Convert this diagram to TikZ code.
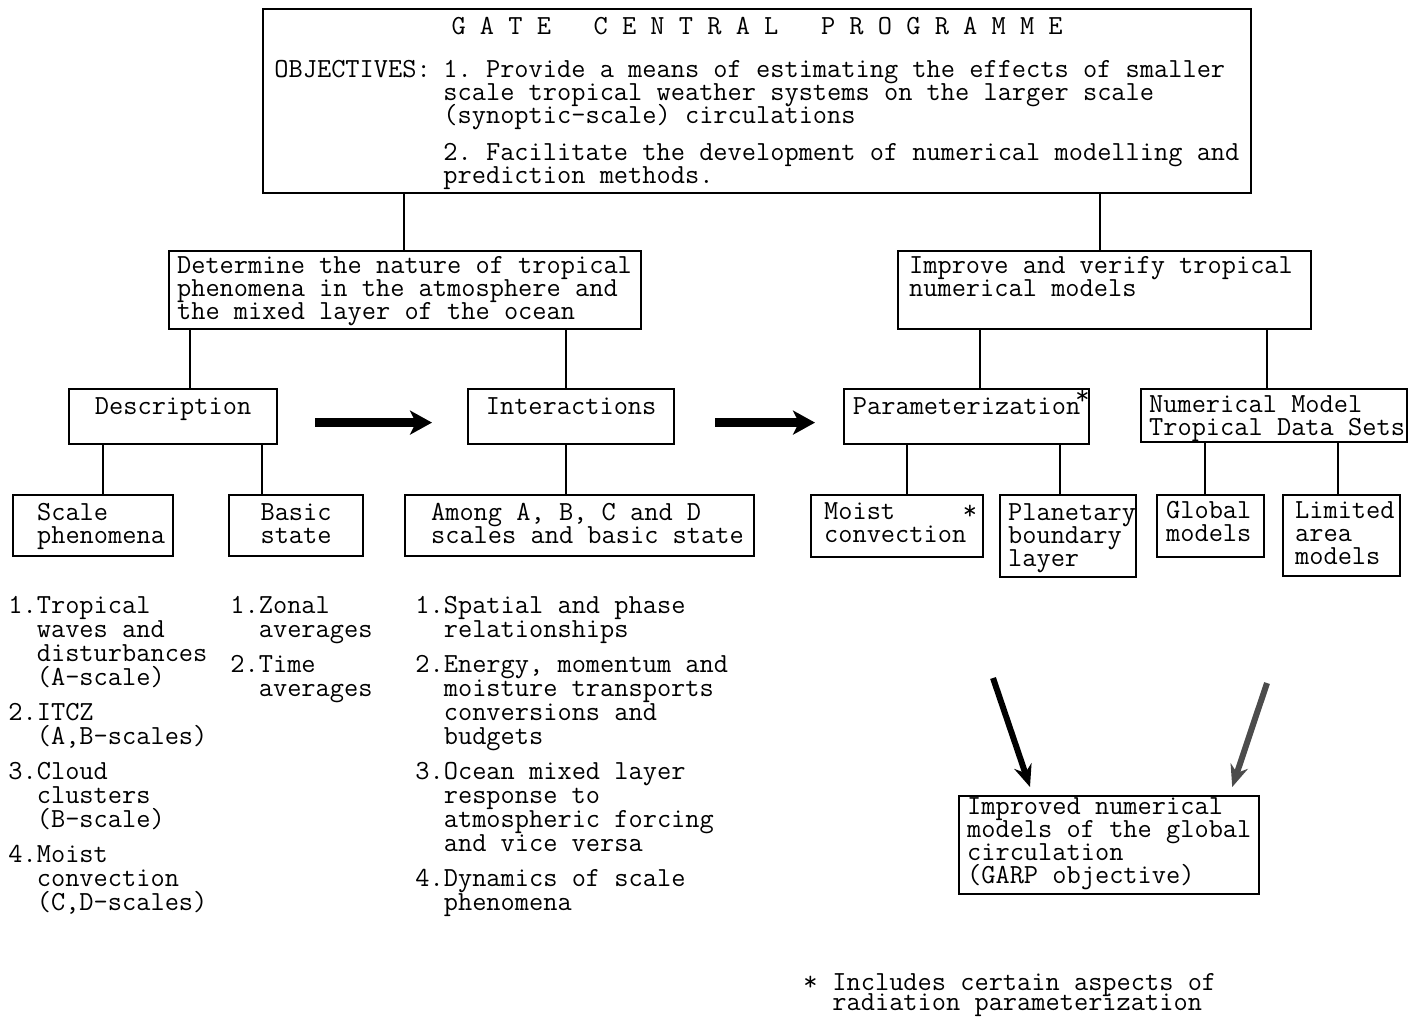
\documentclass[tikz,border=0pt]{standalone}
\usepackage{fontspec}
\usetikzlibrary{arrows.meta,calc}
\setlength{\parindent}{0pt}
\newcommand{\fixsp}{\frenchspacing\spaceskip=\fontcharwd\font`\M\relax\lineskiplimit=-20pt\lineskip=0pt}
\newcommand{\tw}{\ttfamily\fontsize{13.8pt}{11.6pt}\selectfont\fixsp}
\newcommand{\twl}{\ttfamily\fontsize{13.8pt}{12pt}\selectfont\fixsp}
\newcommand{\twn}{\ttfamily\fontsize{13.8pt}{10pt}\selectfont\fixsp}
\newcommand{\ltext}[3]{\vtop{\hsize=#1\relax\raggedright\leftskip=#2\relax\noindent#3}}
\newcommand{\ctext}[2]{\vtop{\hsize=#1\relax\centering\noindent#2}}
\newcommand{\ind}{\hphantom{1.}}

\begin{document}
\begin{tikzpicture}
   [x=0.5pt,y=-0.5pt,
      box/.style={draw=black,line width=1.1pt,anchor=north west,inner sep=0pt,
      font=\tw},
txt/.style={anchor=base west,inner sep=0pt,font=\tw},
lst/.style={txt,font=\twl},
link/.style={line width=1pt},
bigarrow/.style={line width=4.5pt,-{Stealth[length=11pt,width=12pt,inset=3pt]}},
diagarrow/.style={line width=3pt,-{Stealth[length=11pt,width=9pt]}}]
\useasboundingbox (0,0) rectangle (1411,1017);
%%
%% top box
\node (gate) [box,text height=12.5pt,text depth=79.5pt] at (262,8)
{\ctext{494pt}{G~A~T~E~~~C~E~N~T~R~A~L~~~P~R~O~G~R~A~M~M~E}};
\node (obj) [txt] at (274,77) {\ltext{80pt}{0pt}{OBJECTIVES:}};
\node (objone) [txt] at (443,77) {\ltext{400pt}{0pt}{1. Provide a means of estimating the effects of smaller\\
scale tropical weather systems on the larger scale\\(synoptic-scale) circulations}};
\node (objtwo) [txt] at (443,160) {\ltext{400pt}{0pt}{2. Facilitate the development of numerical modelling and\\
prediction methods.}};
%%
%% second level
\node (det) [box,text height=11pt,text depth=28pt] at (168,250)
{\ltext{236pt}{4pt}{Determine the nature of tropical\\phenomena in the atmosphere and\\the mixed layer of the ocean}};
\node (imp) [box,text height=11pt,text depth=28pt] at (897,250)
{\ltext{206.5pt}{5.5pt}{Improve and verify tropical\\numerical models}};
%%
%% third level
\node (desc) [box,text height=12.5pt,text depth=15pt] at (68,388) {\ctext{104pt}{Description}};
\node (inter) [box,text height=12.5pt,text depth=15pt] at (467,388) {\ctext{103pt}{Interactions}};
\node (par) [box,text height=12.5pt,text depth=15pt] at (843,388)
{\ctext{122.5pt}{Parameterization\rlap{\kern-2.5pt\raisebox{5pt}{*}}}};
\node (num) [box,text height=11.5pt,text depth=15pt] at (1140,388)
{\ltext{133pt}{4pt}{Numerical Model\\Tropical Data Sets}};
%%
%% fourth level
\node (scale) [box,text height=12.5pt,text depth=18pt] at (12,494)
{\ltext{80pt}{12pt}{Scale\\phenomena}};
\node (basic) [box,text height=12.5pt,text depth=18pt] at (228,494) {\ctext{67pt}{Basic\\state}};
\node (among) [box,text height=12.5pt,text depth=18pt] at (404,494)
{\ltext{174.5pt}{13pt}{Among A, B, C and D\\scales and basic state}};
\node (moist) [box,text height=12pt,text depth=19pt] at (810,494)
{\ltext{86pt}{6.5pt}{Moist\hfill*\kern3pt\\convection}};
\node (plan) [box,text height=12.5pt,text depth=28.5pt] at (999,494)
{\ltext{68pt}{4pt}{Planetary\\boundary\\layer}};
\node (glob) [box,text height=11.5pt,text depth=19.5pt] at (1156,494)
{\ltext{53.5pt}{4.5pt}{Global\\models}};
\node (lim) [box,text height=11.5pt,text depth=29pt] at (1282,494)
{\ltext{58.5pt}{6pt}{Limited\\area\\models}};
%%
\foreach \p/\c/\x in {gate/det/404,gate/imp/1100,det/desc/190,det/inter/566,
  imp/par/980,imp/num/1267,desc/scale/103,desc/basic/262,inter/among/566,
  par/moist/907,par/plan/1060,num/glob/1205,num/lim/1338}
  \draw[link] (\p.south -| \x,0) -- (\c.north -| \x,0);
%%
\draw[bigarrow,shorten <=18.5pt,shorten >=17.5pt] ([yshift=-3pt]desc.east) -- ([yshift=-3pt]inter.west);
\draw[bigarrow,shorten <=20pt,shorten >=14pt] ([yshift=-3pt]inter.east) -- ([yshift=-3pt]par.west);
%%
%% lists
\node (phenlist) [lst] at (8,613) {\ltext{110pt}{0pt}{1.Tropical\\\ind waves and\\\ind disturbances\\\ind (A-scale)\\[5.5pt]
2.ITCZ\\\ind (A,B-scales)\\[5.5pt]
3.Cloud\\\ind clusters\\\ind (B-scale)\\[5.5pt]
4.Moist\\\ind convection\\\ind (C,D-scales)}};
\node (statelist) [lst] at (230,613) {\ltext{80pt}{0pt}{1.Zonal\\\ind averages\\[5.5pt]
2.Time\\\ind averages}};
\node (interlist) [lst] at (415,613) {\ltext{170pt}{0pt}{1.Spatial and phase\\\ind relationships\\[5.5pt]
2.Energy, momentum and\\\ind moisture transports\\\ind conversions and\\\ind budgets\\[5.5pt]
3.Ocean mixed layer\\\ind response to\\\ind atmospheric forcing\\\ind and vice versa\\[5.5pt]
4.Dynamics of scale\\\ind phenomena}};
%%
%% result
\node (impr) [box,text height=9pt,text depth=40pt] at (958,795)
{\ltext{150pt}{4pt}{Improved numerical\\models of the global\\circulation\\(GARP objective)}};
\coordinate (srcl) at (993,678);
\coordinate (srcr) at (1267,683);
\draw[diagarrow] (srcl) -- ([xshift=36pt,yshift=4pt]impr.north west);
\draw[diagarrow,black!70] (srcr) -- ([xshift=-14pt,yshift=4pt]impr.north east);
%%
%% footnote
\node (star) [txt] at (803,990) {*};
\node (note) [txt,font=\twn] at (832,990) {\ltext{200pt}{0pt}{Includes certain aspects of\\radiation parameterization}};
\end{tikzpicture}
\end{document}
